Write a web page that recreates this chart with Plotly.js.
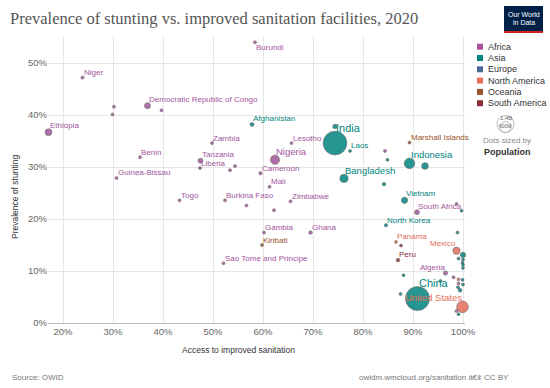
<!DOCTYPE html>
<html><head><meta charset="utf-8">
<script src="https://cdn.plot.ly/plotly-3.0.1.min.js"></script>
<style>html,body{margin:0;padding:0;background:#fff}#chart{width:550px;height:388px}</style>
</head><body><div id="chart"></div>
<script>
// ---- data ----
const continents = ["Africa","Asia","Europe","North America","Oceania","South America"];
const continentColors = ["#A2559C","#00847E","#4C6A9C","#E56E5A","#9A5129","#883039"];

const labels = ["Ethiopia","Niger","","","Democratic Republic of Congo","","Benin","Guinea-Bissau","Togo","Zambia",
  "Tanzania","Liberia","","","Burundi","Afghanistan","Lesotho","Nigeria","Cameroon","Mali",
  "Burkina Faso","","","Zimbabwe","India","","Laos","","","Marshall Islands",
  "Indonesia","","Bangladesh","","Vietnam","South Africa","North Korea","Gambia","Ghana","Kiribati",
  "Sao Tome and Principe","Panama","","Peru","Algeria","","","China","","",
  "","","Mexico","","","","","","","",
  "","","","","","","United States","",""];
const sanitation = [17.1,23.9,30.2,29.9,36.9,39.7,35.4,30.7,43.3,49.8,
  47.5,47.4,53.4,54.4,58.4,57.8,65.7,62.4,59.5,61.3,
  52.4,56.7,62.2,65.5,74.4,74.4,77.4,84.4,84.9,89.3,
  89.3,92.4,76.2,84.2,88.3,90.8,84.6,60.2,69.5,59.8,
  52.1,86.6,87.6,87.0,96.5,88.1,87.5,90.9,95.5,98.7,
  99.7,98.9,98.7,100,99.1,100,99.9,100,100,98.1,
  99.1,99.9,99.1,100,99.0,99.4,99.9,98.7,99.1];
const stunting = [36.7,47.2,41.6,40.1,41.8,40.9,31.9,27.9,23.6,34.6,
  31.2,29.8,29.4,30.2,54.0,38.2,34.6,31.4,28.8,26.2,
  23.6,22.6,21.7,23.4,34.6,37.8,33.1,33.1,31.4,34.7,
  30.7,30.2,27.8,26.7,23.6,21.3,18.8,17.4,17.4,15.0,
  11.5,15.6,14.9,12.1,9.6,9.2,5.6,4.7,8.1,22.9,
  21.6,17.4,13.9,13.1,12.4,12.2,11.6,11.2,10.6,8.8,
  8.4,8.3,7.6,7.4,6.9,6.3,3.1,2.3,1.7];
const region = ["Africa","Africa","Africa","Africa","Africa","Africa","Africa","Africa","Africa","Africa",
  "Africa","Africa","Africa","Africa","Africa","Asia","Africa","Africa","Africa","Africa",
  "Africa","Africa","Africa","Africa","Asia","Asia","Asia","Africa","Asia","Oceania",
  "Asia","Asia","Asia","Asia","Asia","Africa","Asia","Africa","Africa","Oceania",
  "Africa","North America","South America","South America","Africa","Asia","Asia","Asia","Asia","Africa",
  "Asia","Asia","North America","Asia","Asia","Asia","Asia","Asia","Asia","Africa",
  "North America","Asia","Africa","Asia","Asia","Asia","North America","Africa","Asia"];
// population, millions
const population = [115,24,16,12,90,10,12,2,8,18,
  60,5,8,10,12,39,2,206,27,20,
  21,10,10,15,1380,50,7,5,10,0.06,
  273,110,165,30,97,59,26,2.4,31,0.12,
  0.2,4.3,11,33,44,5,5,1411,5,10,
  10,5,129,70,10,8,8,8,10,10,
  5,8,5,5,5,35,331,3,3];
const xTicks = [20,30,40,50,60,70,80,90,100];
const yTicks = [0,10,20,30,40,50];

// ---- layout helpers ----
const W = 550, H = 388, L = 48, R = 85, T = 36, B = 65;
const pw = W - L - R, ph = H - T - B;
const px = x => (x - L) / pw;
const py = y => (H - B - y) / ph;
// plotly area mode: diameter = sqrt(2*v/sizeref), min diameter = 2*sizemin
const SIZEREF = 4.9, SIZEMIN = 1.5;
const diam = p => Math.max(2 * SIZEMIN, Math.sqrt(2 * p / SIZEREF));
const colorOf = r => continentColors[continents.indexOf(r)];

const order = population.map((p, i) => i).sort((a, b) => population[b] - population[a]);

const trace = {
  type: 'scatter', mode: 'markers', cliponaxis: false,
  x: order.map(i => sanitation[i]),
  y: order.map(i => stunting[i]),
  text: order.map(i => labels[i]),
  hoverinfo: 'text',
  marker: {
    size: order.map(i => population[i]),
    sizemode: 'area', sizeref: SIZEREF, sizemin: SIZEMIN,
    color: order.map(i => colorOf(region[i])),
    opacity: 0.85,
    line: {color: '#555', width: 0.6}
  },
  showlegend: false
};

const rightAnchored = ["Mexico", "United States", "Algeria"];
const belowLabels = ["Burundi"];
const font = "'Liberation Sans', Arial, sans-serif";

const annotations = [];
labels.forEach((lab, i) => {
  if (!lab) return;
  const r = diam(population[i]) / 2;
  const fs = population[i] > 1000 ? 11 : (population[i] > 150 ? 9.5 : 8);
  const below = belowLabels.includes(lab);
  annotations.push({
    x: sanitation[i], y: stunting[i], xref: 'x', yref: 'y',
    text: lab, showarrow: false,
    xanchor: rightAnchored.includes(lab) ? 'right' : 'left',
    yanchor: 'middle',
    xshift: rightAnchored.includes(lab) ? 1 : -1,
    yshift: below ? -(r + 4) : (r + 3.5),
    font: {family: font, size: fs, color: colorOf(region[i])}
  });
});

const shapes = [];
// colour legend
const legY0 = 46.7, legDy = 11.3;
continents.forEach((c, k) => {
  const yc = legY0 + k * legDy;
  shapes.push({type: 'rect', xref: 'paper', yref: 'paper',
    x0: px(477), x1: px(483), y0: py(yc + 3), y1: py(yc - 3),
    fillcolor: continentColors[k], line: {width: 0}});
  annotations.push({xref: 'paper', yref: 'paper', x: px(486), y: py(yc),
    xanchor: 'left', yanchor: 'middle', showarrow: false, text: c,
    font: {family: font, size: 9, color: '#333'}});
});
// size legend
shapes.push({type: 'circle', xref: 'paper', yref: 'paper',
  x0: px(497), x1: px(514), y0: py(132.5), y1: py(115.5), line: {color: '#aaa', width: 0.8}});
shapes.push({type: 'circle', xref: 'paper', yref: 'paper',
  x0: px(500), x1: px(511), y0: py(132.5), y1: py(121.5), line: {color: '#aaa', width: 0.8}});
annotations.push({xref: 'paper', yref: 'paper', x: px(505.5), y: py(118.5), text: '1.4B', showarrow: false,
  xanchor: 'center', yanchor: 'middle', font: {family: font, size: 6, color: '#666'}});
annotations.push({xref: 'paper', yref: 'paper', x: px(505.5), y: py(125.5), text: '600M', showarrow: false,
  xanchor: 'center', yanchor: 'middle', font: {family: font, size: 5, color: '#666'}});
annotations.push({xref: 'paper', yref: 'paper', x: px(507), y: py(140.5), text: 'Dots sized by', showarrow: false,
  xanchor: 'center', yanchor: 'middle', font: {family: font, size: 8, color: '#888'}});
annotations.push({xref: 'paper', yref: 'paper', x: px(507), y: py(151.5), text: '<b>Population</b>', showarrow: false,
  xanchor: 'center', yanchor: 'middle', font: {family: font, size: 9, color: '#333'}});
// logo
shapes.push({type: 'rect', xref: 'paper', yref: 'paper', x0: px(504), x1: px(543), y0: py(33), y1: py(6),
  fillcolor: '#002147', line: {width: 0}});
shapes.push({type: 'rect', xref: 'paper', yref: 'paper', x0: px(504), x1: px(543), y0: py(33), y1: py(31),
  fillcolor: '#ce261e', line: {width: 0}});
annotations.push({xref: 'paper', yref: 'paper', x: px(523.5), y: py(14.5), text: 'Our World', showarrow: false,
  xanchor: 'center', yanchor: 'middle', font: {family: font, size: 7, color: '#fff'}});
annotations.push({xref: 'paper', yref: 'paper', x: px(523.5), y: py(23), text: 'in Data', showarrow: false,
  xanchor: 'center', yanchor: 'middle', font: {family: font, size: 7, color: '#fff'}});
// axis titles & footer
annotations.push({xref: 'paper', yref: 'paper', x: px(15), y: py(197), text: 'Prevalence of stunting', textangle: -90,
  showarrow: false, xanchor: 'center', yanchor: 'middle', font: {family: font, size: 8.5, color: '#333'}});
annotations.push({xref: 'paper', yref: 'paper', x: px(238), y: py(350), text: 'Access to improved sanitation',
  showarrow: false, xanchor: 'center', yanchor: 'middle', font: {family: font, size: 8.5, color: '#333'}});
annotations.push({xref: 'paper', yref: 'paper', x: px(10), y: py(377), text: 'Source: OWID',
  showarrow: false, xanchor: 'left', yanchor: 'middle', font: {family: font, size: 8, color: '#777'}});
annotations.push({xref: 'paper', yref: 'paper', x: px(511), y: py(377), text: 'owidm.wmcloud.org/sanitation â€¢ CC BY',
  showarrow: false, xanchor: 'right', yanchor: 'middle', font: {family: font, size: 8, color: '#777'}});

const layout = {
  width: W, height: H,
  margin: {l: L, r: R, t: T, b: B, pad: 0},
  paper_bgcolor: '#fff', plot_bgcolor: '#fff',
  title: {text: 'Prevalence of stunting vs. improved sanitation facilities, 2020',
    x: 10 / W, xanchor: 'left', xref: 'container', y: 1 - 18 / H, yanchor: 'middle', yref: 'container',
    font: {family: "'Liberation Serif', 'DejaVu Serif', serif", size: 16.5, color: '#555'}},
  xaxis: {range: [17, 100.4], tickvals: xTicks, ticktext: xTicks.map(v => v + '%'),
    showgrid: true, gridcolor: '#e6e6e6', zeroline: false, showline: true, linecolor: '#bbb', linewidth: 1,
    ticks: '', tickfont: {family: font, size: 9.5, color: '#666'}},
  yaxis: {range: [0, 55.2], tickvals: yTicks, ticktext: yTicks.map(v => v + '%'),
    showgrid: true, gridcolor: '#e6e6e6', zeroline: false, showline: false,
    ticks: '', tickfont: {family: font, size: 9.5, color: '#666'}},
  shapes: shapes,
  annotations: annotations,
  hovermode: 'closest'
};

Plotly.newPlot('chart', [trace], layout, {displayModeBar: false, staticPlot: true});
</script>
</body></html>
